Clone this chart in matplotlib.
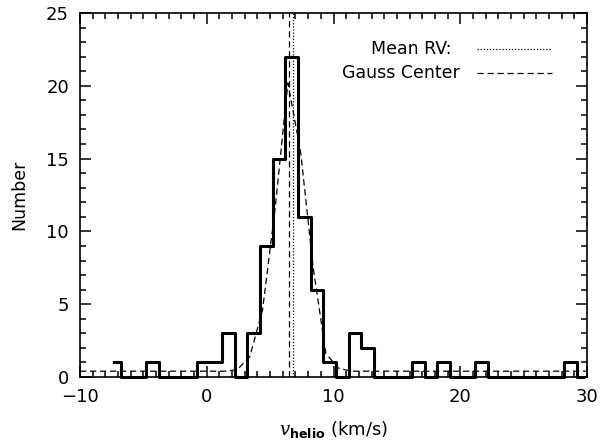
#!/usr/bin/env python3
"""Heliocentric velocity histogram with Gaussian fit, IDL-style."""
import os

os.environ.setdefault("MPLBACKEND", "Agg")
import matplotlib.pyplot as plt
import numpy as np

# histogram: bin centres start at -7.3, width 1 km/s
BIN_START, BIN_WIDTH = -7.3, 1.0
counts = [1, 0, 0, 1, 0, 0, 0, 1, 1, 3,
          0, 3, 9, 15, 22, 11, 6, 1, 0, 3,
          2, 0, 0, 0, 1, 0, 1, 0, 0, 1,
          0, 0, 0, 0, 0, 0, 1, 0]

# gaussian fit curve
gauss_x = [-10, 1.4, 2.4, 3.4, 4.4, 5.4, 6.4, 7.4, 8.4, 9.4, 10.4, 11.4, 30]
gauss_y = [0.4, 0.4, 0.5, 1.4, 4.6, 11.6, 20.2, 15.5, 7.5, 1.6, 0.6, 0.4, 0.4]

mean_rv = 6.82
gauss_center = 6.5

plt.rcParams["font.family"] = ["DejaVu Sans"]
plt.rcParams["mathtext.fontset"] = "custom"
plt.rcParams["mathtext.it"] = "DejaVu Serif:italic"
plt.rcParams["mathtext.bf"] = "DejaVu Sans:bold"
plt.rcParams["mathtext.rm"] = "DejaVu Sans"

W, H = 602, 445
fig = plt.figure(figsize=(W / 100, H / 100), dpi=100)
ax = fig.add_axes([80 / W, 1 - 377 / H, 507 / W, 364 / H])

centers = BIN_START + BIN_WIDTH * np.arange(len(counts))
ax.step(centers, counts, where="mid", color="black", lw=2.2, clip_on=False)
ax.plot(gauss_x, gauss_y, color="black", lw=0.9, dashes=(5, 3))
ax.axvline(gauss_center, color="black", lw=0.9, dashes=(5, 3))
ax.axvline(mean_rv, color="black", lw=0.9, dashes=(1, 1.5))

# legend, no frame
ax.text(0.732, 0.902, "Mean RV:", transform=ax.transAxes, ha="right", va="center", fontsize=12.5)
ax.text(0.750, 0.836, "Gauss Center", transform=ax.transAxes, ha="right", va="center", fontsize=12.5)
ax.plot([0.783, 0.931], [0.900, 0.900], transform=ax.transAxes, color="black", lw=0.9, dashes=(1, 1.5))
ax.plot([0.783, 0.931], [0.835, 0.835], transform=ax.transAxes, color="black", lw=0.9, dashes=(5, 3))

ax.set_xlim(-10, 30)
ax.set_ylim(0, 25)
ax.set_xticks(np.arange(-10, 31, 10))
ax.set_xticks(np.arange(-10, 31, 1), minor=True)
ax.set_yticks(np.arange(0, 26, 5))
ax.set_yticks(np.arange(0, 26, 1), minor=True)
ax.tick_params(which="both", direction="in", top=True, right=True, labelsize=13, width=1.1, pad=8)
ax.tick_params(which="major", length=8)
ax.tick_params(which="minor", length=4)
for s in ax.spines.values():
    s.set_linewidth(1.2)

ax.set_ylabel("Number", fontsize=12.5, labelpad=13)
ax.set_xlabel(r"$\mathit{v}_{\mathbf{helio}}$ (km/s)", fontsize=13, labelpad=9)

fig.savefig("out.png", dpi=100)
